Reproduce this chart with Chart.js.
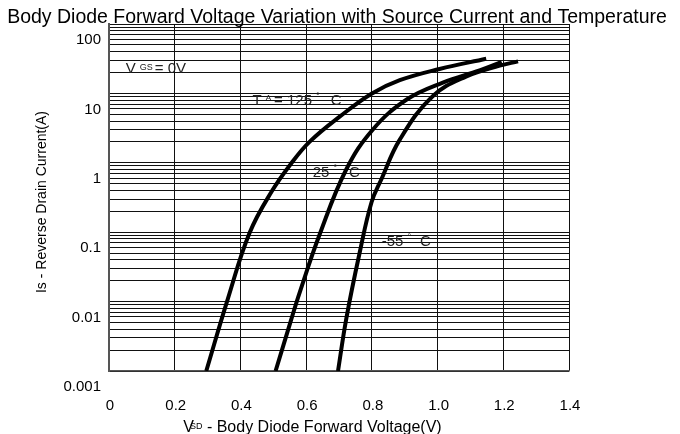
<!DOCTYPE html>
<html>
<head>
<meta charset="utf-8">
<script src="https://cdn.jsdelivr.net/npm/chart.js@4"></script>
<style>
  html, body { margin: 0; padding: 0; background: #fff; }
  canvas { display: block; }
</style>
</head>
<body>
<canvas id="chart" width="680" height="434"></canvas>
<script>
// Body diode: Is (log) against Vsd for three junction temperatures
const vsd125 = [0.296, 0.361, 0.428, 0.495, 0.556, 0.611, 0.702, 0.799, 0.885, 1.006, 1.148];
const is125  = [0.001, 0.0107, 0.098, 0.385, 1.0, 2.02, 4.62, 9.9, 15.5, 22.5, 31.6];

const vsd25 = [0.507, 0.5545, 0.58, 0.641, 0.722, 0.8025, 0.905, 1.016, 1.128, 1.195];
const is25  = [0.001, 0.0055, 0.0134, 0.0925, 0.80, 3.0, 8.1, 14.3, 21.5, 28.4];

const vsdM55 = [0.697, 0.7225, 0.763, 0.799, 0.829, 0.885, 0.985, 1.088, 1.189, 1.245];
const isM55  = [0.001, 0.0058, 0.051, 0.27, 0.58, 2.16, 9.1, 17.6, 25.1, 28.9];

const xTickValues = [0, 0.2, 0.4, 0.6, 0.8, 1.0, 1.2, 1.4];
const xTickLabels = ['0', '0.2', '0.4', '0.6', '0.8', '1.0', '1.2', '1.4'];
const yDecades = [0.001, 0.01, 0.1, 1, 10, 100];
const yTickLabels = ['0.001', '0.01', '0.1', '1', '10', '100'];

// in-plot notes, anchored in data units
const noteX = [0.051, 0.437, 0.62, 0.83];
const noteY = [20, 6.9, 0.63, 0.064];

const FONT = '"Liberation Sans", Arial, sans-serif';

// minor grid: 1..9 in each decade
const yGridValues = [];
for (let i = 0; i < yDecades.length - 1; i++) {
  for (let m = 1; m <= 9; m++) yGridValues.push(+(m * yDecades[i]).toPrecision(3));
}
yGridValues.push(yDecades[yDecades.length - 1]);

const toPoints = (xs, ys) => xs.map((x, i) => ({x: x, y: ys[i]}));

function drawRuns(ctx, runs, x, y) {
  runs.forEach(r => {
    x += r.gap || 0;
    ctx.font = r.size + 'px ' + FONT;
    ctx.fillText(r.text, x, y - (r.rise || 0));
    x += ctx.measureText(r.text).width;
  });
  return x;
}
function runsWidth(ctx, runs) {
  let w = 0;
  runs.forEach(r => {
    ctx.font = r.size + 'px ' + FONT;
    w += (r.gap || 0) + ctx.measureText(r.text).width;
  });
  return w;
}

const noteRuns = [
  [{text: 'V', size: 15}, {text: 'GS', size: 9, gap: 4, rise: 3}, {text: '= 0V', size: 15, gap: 2}],
  [{text: 'T', size: 15}, {text: 'A', size: 8, gap: 4, rise: 5}, {text: '= 125', size: 15, gap: 3},
   {text: '°', size: 9, gap: 4, rise: 6}, {text: 'C', size: 15, gap: 11}],
  [{text: '25', size: 15}, {text: '°', size: 9, gap: 4, rise: 6}, {text: 'C', size: 15, gap: 12}],
  [{text: '-55', size: 15}, {text: '°', size: 9, gap: 4, rise: 6}, {text: 'C', size: 15, gap: 9}]
];

const textPlugin = {
  id: 'texts',
  beforeDraw(chart) {
    const ctx = chart.ctx;
    ctx.save();
    ctx.fillStyle = '#fff';
    ctx.fillRect(0, 0, chart.width, chart.height);
    ctx.restore();
  },
  beforeDatasetsDraw(chart) {
    const ctx = chart.ctx;
    const xs = chart.scales.x, ys = chart.scales.y;
    ctx.save();
    ctx.fillStyle = '#222';
    ctx.textBaseline = 'alphabetic';
    ctx.textAlign = 'left';
    noteRuns.forEach((runs, i) => {
      drawRuns(ctx, runs, xs.getPixelForValue(noteX[i]), ys.getPixelForValue(noteY[i]));
    });
    ctx.restore();
  },
  afterDraw(chart) {
    const ctx = chart.ctx;
    ctx.save();
    ctx.fillStyle = '#000';
    ctx.textBaseline = 'alphabetic';
    // main title
    ctx.textAlign = 'center';
    ctx.font = '19.5px ' + FONT;
    ctx.fillText('Body Diode Forward Voltage Variation with Source Current and Temperature', 337, 23);
    // y title
    ctx.save();
    ctx.translate(46, 202);
    ctx.rotate(-Math.PI / 2);
    ctx.font = '14px ' + FONT;
    ctx.fillText('Is - Reverse Drain Current(A)', 0, 0);
    ctx.restore();
    // x title with small subscript
    ctx.textAlign = 'left';
    const xRuns = [{text: 'V', size: 16}, {text: 'SD', size: 9, gap: -4, rise: 3},
                   {text: ' - Body Diode Forward Voltage(V)', size: 16, gap: 0}];
    const w = runsWidth(ctx, xRuns);
    drawRuns(ctx, xRuns, 312.5 - w / 2, 431.5);
    ctx.restore();
  }
};

new Chart(document.getElementById('chart'), {
  type: 'line',
  data: {
    datasets: [
      {label: '125', data: toPoints(vsd125, is125)},
      {label: '25', data: toPoints(vsd25, is25)},
      {label: '-55', data: toPoints(vsdM55, isM55)}
    ].map(d => Object.assign(d, {
      borderColor: '#000', borderWidth: 4, pointRadius: 0,
      fill: false, tension: 0.4
    }))
  },
  options: {
    responsive: false,
    animation: false,
    layout: {padding: {top: 24, right: 111, left: 0, bottom: 0}},
    plugins: {legend: {display: false}, title: {display: false}, tooltip: {enabled: false}},
    scales: {
      x: {
        type: 'linear', min: 0, max: 1.4,
        afterBuildTicks: s => { s.ticks = xTickValues.map(v => ({value: v})); },
        afterFit: s => { s.height = 63; },
        ticks: {
          callback: (v, i) => xTickLabels[i],
          autoSkip: false, maxRotation: 0, padding: 26, labelOffset: 1,
          color: '#000', font: {family: FONT, size: 15}
        },
        grid: {color: '#111', lineWidth: 1, drawTicks: false},
        border: {color: '#555', width: 1.5}
      },
      y: {
        type: 'logarithmic', min: 0.001, max: 100,
        afterBuildTicks: s => { s.ticks = yGridValues.map(v => ({value: v})); },
        afterFit: s => { s.width = 109; },
        ticks: {
          callback: v => {
            const k = yDecades.findIndex(d => Math.abs(d - v) < d * 1e-6);
            return k >= 0 ? yTickLabels[k] : '';
          },
          autoSkip: false, padding: 8, labelOffset: 16,
          color: '#000', font: {family: FONT, size: 15}
        },
        grid: {color: '#111', lineWidth: 1, drawTicks: false},
        border: {color: '#555', width: 2}
      }
    }
  },
  plugins: [textPlugin]
});
</script>
</body>
</html>
